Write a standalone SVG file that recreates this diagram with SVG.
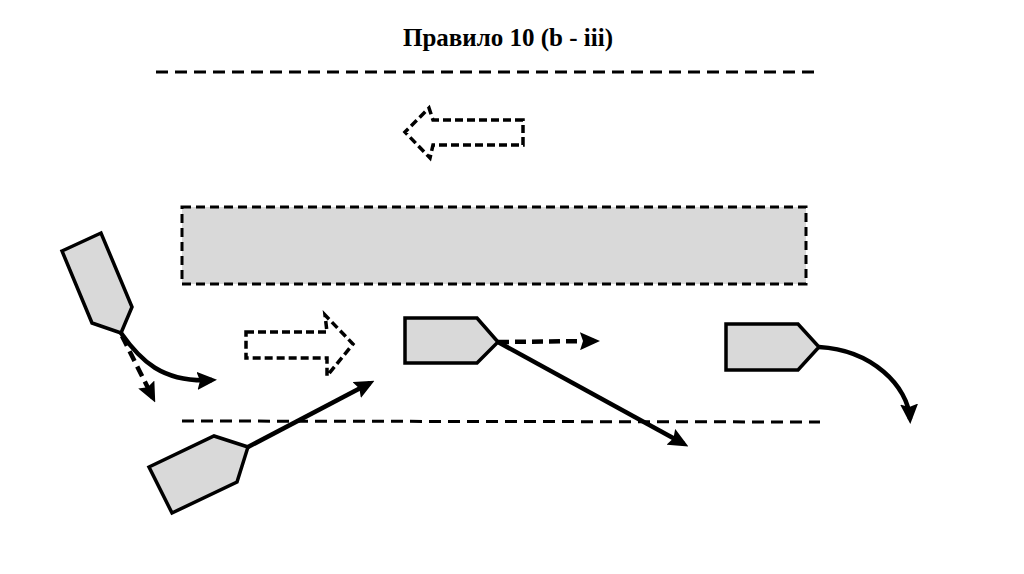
<svg xmlns="http://www.w3.org/2000/svg" width="1024" height="574" viewBox="0 0 1024 574">
<style>
.title{font-family:"Liberation Serif","Times New Roman",serif;font-weight:bold;font-size:25px;fill:#000}
.lane{stroke:#000;stroke-width:3;stroke-dasharray:12 7;fill:none}
.boat{fill:#d9d9d9;stroke:#000;stroke-width:3.5;stroke-linejoin:miter}
.hollow{fill:#fff;stroke:#000;stroke-width:3.5;stroke-dasharray:8 4}
.path{fill:none;stroke:#000;stroke-width:4.5}
.dpath{fill:none;stroke:#000;stroke-width:4.5;stroke-dasharray:11 6}
</style>
<defs>
<marker id="ah" markerUnits="userSpaceOnUse" markerWidth="20" markerHeight="18" refX="15" refY="9" orient="auto" viewBox="0 0 20 18">
<path d="M0,0 L20,9 L0,18 L3,9 Z" fill="#000"/>
</marker>
</defs>
<rect width="1024" height="574" fill="#fff"/>
<text class="title" x="508" y="46" text-anchor="middle">Правило 10 (b - iii)</text>
<g id="lanes">
<line class="lane" x1="156" y1="72" x2="820" y2="72"/>
<line class="lane" x1="182" y1="421" x2="820" y2="422"/>
</g>
<g id="zone">
<rect x="182" y="207" width="624" height="77" fill="#d9d9d9" stroke="#000" stroke-width="3" stroke-dasharray="9 5"/>
</g>
<g id="flow-left">
<polygon class="hollow" points="523,120 433,120 429,108 405,132 430,158 433,145 523,145"/>
</g>
<g id="flow-right">
<polygon class="hollow" points="246,332 327,332 325,315 353,344 327,376 327,358 246,358"/>
</g>
<g id="connectors">
<path class="path" d="M121,333 C140,360 162,383 212,380" marker-end="url(#ah)"/>
<path class="dpath" d="M122,336 L153,398" marker-end="url(#ah)"/>
<path class="path" d="M248,447 L370,383" marker-end="url(#ah)"/>
<path class="dpath" d="M498,342 L595,341" marker-end="url(#ah)"/>
<path class="path" d="M498,342 L684,444" marker-end="url(#ah)"/>
<path class="path" d="M819,347 C872,350 908,386 910,419" marker-end="url(#ah)"/>
</g>
<g id="boat1">
<polygon class="boat" points="62,251 101,233 132,307 121,333 92,323"/>
</g>
<g id="boat2">
<polygon class="boat" points="149,467 214,436 248,447 237,482 172,513"/>
</g>
<g id="boat3">
<polygon class="boat" points="405,318 477,318 498,342 477,363 405,363"/>
</g>
<g id="boat4">
<polygon class="boat" points="726,324 798,324 819,347 798,370 726,370"/>
</g>
</svg>
